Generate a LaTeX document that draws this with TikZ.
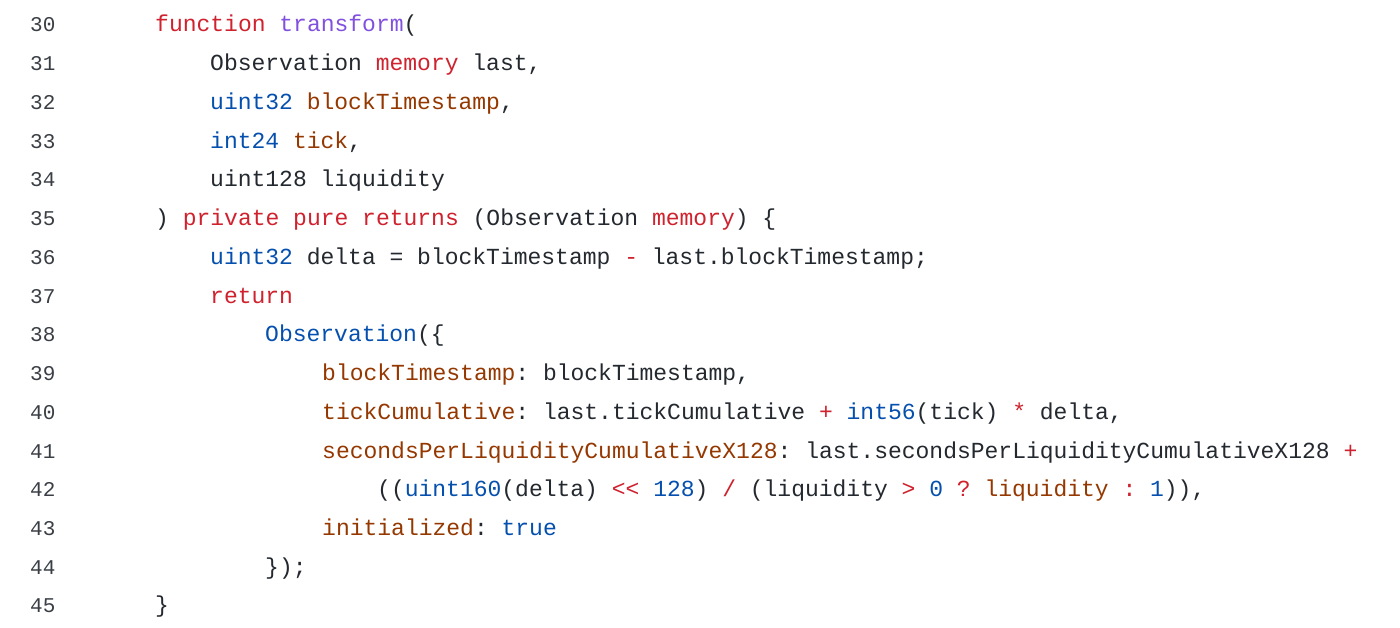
\documentclass[tikz,border=0pt]{standalone}
\usepackage{fontspec}
\setmonofont{Liberation Mono}
\definecolor{kw}{HTML}{CF222E}
\definecolor{fn}{HTML}{8250DF}
\definecolor{ty}{HTML}{0550AE}
\definecolor{vr}{HTML}{953800}
\definecolor{tx}{HTML}{24292F}
\definecolor{ln}{HTML}{3A3F45}
\newcommand{\K}[1]{\textcolor{kw}{#1}}
\newcommand{\F}[1]{\textcolor{fn}{#1}}
\newcommand{\T}[1]{\textcolor{ty}{#1}}
\newcommand{\V}[1]{\textcolor{vr}{#1}}
\begin{document}
\begin{tikzpicture}[x=1pt,y=1pt,
  code/.style={anchor=base west,inner sep=0,text=tx,font=\fontsize{23}{23}\ttfamily},
  num/.style={anchor=base west,inner sep=0,text=ln,font=\fontsize{21}{21}\ttfamily}]
\fill[white] (0,0) rectangle (1400,628);
\useasboundingbox (0,0) rectangle (1400,628);
\def\dy{38.73}
\foreach \n [count=\i from 0] in {30,...,45}
  \node[num] (n\n) at (30,596-\i*\dy) {\n};
\node[code] (l30) at (155,596-0*\dy) {\K{function} \F{transform}(};
\node[code] (l31) at (210,596-1*\dy) {Observation \K{memory} last,};
\node[code] (l32) at (210,596-2*\dy) {\T{uint32} \V{blockTimestamp},};
\node[code] (l33) at (210,596-3*\dy) {\T{int24} \V{tick},};
\node[code] (l34) at (210,596-4*\dy) {uint128 liquidity};
\node[code] (l35) at (155,596-5*\dy) {) \K{private pure returns} (Observation \K{memory}) \{};
\node[code] (l36) at (210,596-6*\dy) {\T{uint32} delta = blockTimestamp \K{-} last.blockTimestamp;};
\node[code] (l37) at (210,596-7*\dy) {\K{return}};
\node[code] (l38) at (265,596-8*\dy) {\T{Observation}(\{};
\node[code] (l39) at (322,596-9*\dy) {\V{blockTimestamp}: blockTimestamp,};
\node[code] (l40) at (322,596-10*\dy) {\V{tickCumulative}: last.tickCumulative \K{+} \T{int56}(tick) \K{*} delta,};
\node[code] (l41) at (322,596-11*\dy) {\V{secondsPerLiquidityCumulativeX128}: last.secondsPerLiquidityCumulativeX128 \K{+}};
\node[code] (l42) at (377,596-12*\dy) {((\T{uint160}(delta) \K{<<} \T{128}) \K{/} (liquidity \K{>} \T{0} \K{?} \V{liquidity} \K{:} \T{1})),};
\node[code] (l43) at (322,596-13*\dy) {\V{initialized}: \T{true}};
\node[code] (l44) at (265,596-14*\dy) {\});};
\node[code] (l45) at (155,596-15*\dy) {\}};
\end{tikzpicture}
\end{document}
